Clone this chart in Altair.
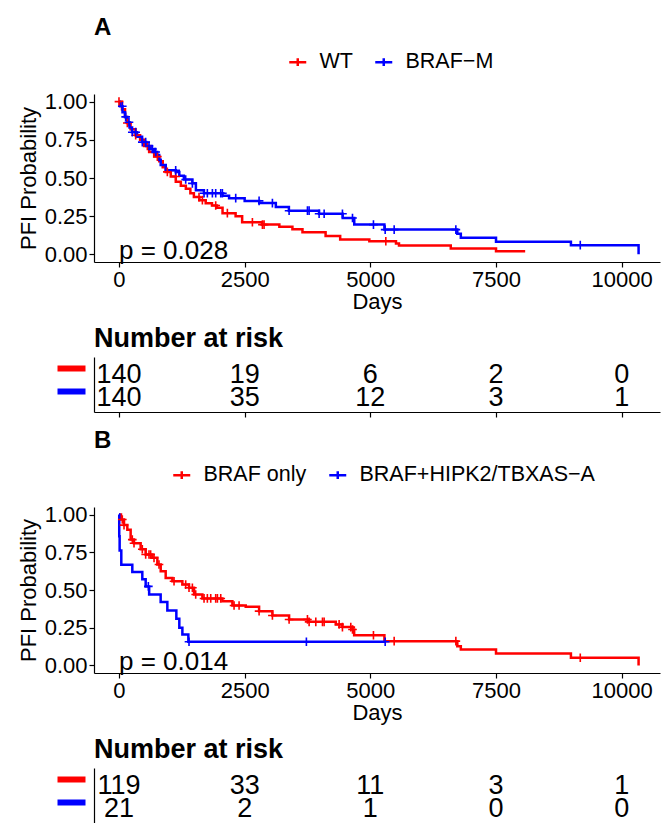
import altair as alt
import pandas as pd

# ---------------- Panel A data ----------------
A_groups = ["WT", "BRAF\u2212M"]
A_wt_time = [0, 60, 120, 160, 230, 330, 420, 500, 600, 700, 800, 870, 930, 1030, 1130, 1230, 1330, 1420,
             1490, 1600, 1725, 1850, 1950, 2060, 2320, 2450, 2850, 3190, 3450, 3650, 4110, 4400, 4980,
             5510, 5570, 6600, 7500, 8080]
A_wt_surv = [1.0, 0.95, 0.90, 0.86, 0.82, 0.78, 0.75, 0.71, 0.67, 0.64, 0.61, 0.57, 0.54, 0.51, 0.476,
             0.45, 0.43, 0.40, 0.375, 0.355, 0.335, 0.32, 0.305, 0.27, 0.25, 0.21, 0.195, 0.18, 0.165,
             0.145, 0.12, 0.097, 0.086, 0.071, 0.058, 0.039, 0.021, 0.021]
A_wt_cens = [0, 166, 332, 564, 763, 962, 1128, 1592, 1659, 1924, 2156, 2654, 2853, 2886, 5308]

A_br_time = [0, 20, 70, 120, 165, 210, 260, 360, 460, 540, 630, 700, 760, 800, 830, 930, 1130, 1200,
             1290, 1460, 1530, 1690, 2060, 2190, 2500, 2790, 3120, 3380, 3980, 4450, 4680, 5280, 6730,
             6800, 7500, 8990, 10336]
A_br_surv = [1.0, 0.97, 0.93, 0.90, 0.865, 0.83, 0.80, 0.77, 0.735, 0.71, 0.69, 0.67, 0.65, 0.62, 0.585,
             0.55, 0.54, 0.515, 0.49, 0.465, 0.42, 0.40, 0.383, 0.368, 0.35, 0.336, 0.31, 0.286, 0.266,
             0.238, 0.195, 0.162, 0.135, 0.108, 0.082, 0.06, 0.0]
A_br_cens = [66, 133, 199, 265, 332, 464, 531, 597, 663, 730, 1128, 1327, 1460, 1692, 1758, 1858, 1924,
             2024, 2057, 2322, 2787, 3052, 3384, 3749, 3782, 3981, 4081, 4445, 4645, 5062, 5295, 5474,
             6701, 9176]
A_pval = "p = 0.028"
A_risk_wt = [140, 19, 6, 2, 0]
A_risk_br = [140, 35, 12, 3, 1]

# ---------------- Panel B data ----------------
B_groups = ["BRAF only", "BRAF+HIPK2/TBXAS\u2212A"]
B_only_time = [0, 40, 100, 166, 232, 298, 431, 531, 663, 763, 830, 929, 1062, 1261, 1393, 1493, 1659,
               2057, 2256, 2521, 2787, 3052, 3384, 3782, 4313, 4445, 4644, 4678, 5280, 6730, 6800, 7500,
               8990, 10336]
B_only_surv = [1.0, 0.967, 0.93, 0.90, 0.834, 0.81, 0.77, 0.735, 0.713, 0.669, 0.624, 0.58, 0.558, 0.536,
               0.515, 0.47, 0.444, 0.426, 0.397, 0.389, 0.36, 0.331, 0.305, 0.289, 0.272, 0.254, 0.238,
               0.2, 0.161, 0.128, 0.106, 0.079, 0.051, 0.0]
B_only_cens = [66, 100, 265, 299, 464, 531, 597, 630, 697, 796, 1095, 1327, 1393, 1460, 1526, 1692, 1758,
               1825, 1924, 1958, 2024, 2289, 2389, 2787, 3052, 3384, 3749, 3782, 3915, 4048, 4081, 4379,
               4445, 4611, 4645, 5062, 5474, 6701, 9176]
B_hip_time = [0, 5, 13, 46, 265, 464, 531, 600, 829, 962, 1141, 1200, 1261, 1380, 5295]
B_hip_surv = [1.0, 0.857, 0.762, 0.667, 0.619, 0.571, 0.524, 0.47, 0.42, 0.364, 0.31, 0.25, 0.205, 0.157,
              0.157]
B_hip_cens = [584, 1393, 3728, 5295]
B_pval = "p = 0.014"
B_risk_only = [119, 33, 11, 3, 1]
B_risk_hip = [21, 2, 1, 0, 0]

risk_times = [0, 2500, 5000, 7500, 10000]
COLORS = ["#ff0000", "#0000ff"]
FONT = "Liberation Sans"
X_DOMAIN = [-497, 10762]
PLUS = "M-1,0L1,0M0,-1L0,1"


def step_value(times, survs, t):
    v = survs[0]
    for tt, ss in zip(times, survs):
        if tt <= t:
            v = ss
    return v


def km_panel(letter, groups, curves, pval, legend_x, height):
    line_rows, cens_rows = [], []
    for g, (ts, ss, cs) in zip(groups, curves):
        for t, s in zip(ts, ss):
            line_rows.append({"time": t, "surv": s, "group": g})
        for c in cs:
            cens_rows.append({"time": c, "surv": step_value(ts, ss, c), "group": g})
    ldf = pd.DataFrame(line_rows)
    cdf = pd.DataFrame(cens_rows)
    pdf = pd.DataFrame({"time": [0], "surv": [0.0], "label": [pval]})

    x = alt.X("time:Q", scale=alt.Scale(domain=X_DOMAIN, nice=False, zero=False),
              axis=alt.Axis(values=risk_times, format="d", title="Days", labelPadding=2,
                            titlePadding=1))
    y = alt.Y("surv:Q", scale=alt.Scale(domain=[-0.05, 1.05], nice=False, zero=False),
              axis=alt.Axis(values=[0, 0.25, 0.5, 0.75, 1.0], format=".2f",
                            title="PFI Probability", labelPadding=2, titlePadding=4))
    color = alt.Color("group:N", scale=alt.Scale(domain=groups, range=COLORS),
                      legend=alt.Legend(title=None, orient="none", direction="horizontal",
                                        legendX=legend_x, legendY=-43, padding=0,
                                        symbolType="M-1,0L1,0M0,-0.45L0,0.45",
                                        symbolSize=289, symbolStrokeWidth=2.5,
                                        labelFontSize=21.5, labelFont=FONT, labelOffset=11,
                                        labelLimit=500, columnPadding=17, labelColor="black"))
    line = alt.Chart(ldf).mark_line(interpolate="step-after", strokeWidth=2.5).encode(
        x=x, y=y, color=color, order="time:Q")
    pts = alt.Chart(cdf).mark_point(shape=PLUS, filled=False, size=75, strokeWidth=1.6,
                                    opacity=1).encode(x=x, y=y, color=color)
    ptxt = alt.Chart(pdf).mark_text(align="left", baseline="alphabetic", dy=5, fontSize=26,
                                    font=FONT, color="black").encode(x=x, y=y, text="label:N")
    return alt.layer(line, pts, ptxt).properties(
        width=566, height=height,
        title=alt.TitleParams(letter, anchor="start", frame="group", fontSize=24,
                              fontWeight="bold", font=FONT, baseline="alphabetic", offset=-8,
                              color="black"))


def risk_table(groups, counts):
    rows = []
    for g, cs in zip(groups, counts):
        for t, n in zip(risk_times, cs):
            rows.append({"time": t, "group": g, "n": n})
    df = pd.DataFrame(rows)
    x = alt.X("time:Q", scale=alt.Scale(domain=X_DOMAIN, nice=False, zero=False),
              axis=alt.Axis(values=risk_times, labels=False, title=None, tickSize=5))
    yscale = alt.Scale(domain=groups, type="point", padding=0.7)
    txt = alt.Chart(df).mark_text(fontSize=27, font=FONT, baseline="middle",
                                  dy=2, color="black").encode(
        x=x,
        y=alt.Y("group:N", scale=yscale,
                axis=alt.Axis(title=None, labels=False, ticks=False, domain=True, orient="left")),
        text="n:Q")
    keys = alt.Chart(df).mark_text(opacity=0).encode(
        x=x,
        y=alt.Y("group:N", scale=yscale,
                axis=alt.Axis(title=None, labels=False, domain=False, ticks=True, orient="left",
                              tickSize=28, tickWidth=6, offset=9, tickOffset=-5,
                              tickColor={"condition": {"test": f"datum.value === '{groups[0]}'",
                                                       "value": COLORS[0]},
                                         "value": COLORS[1]})),
        text="n:Q")
    return alt.layer(txt, keys).resolve_axis(y="independent").properties(
        width=566, height=55,
        title=alt.TitleParams("Number at risk", anchor="start", frame="group", fontSize=27,
                              fontWeight="bold", font=FONT, baseline="alphabetic", offset=-17,
                              color="black"))


panelA = km_panel("A", A_groups,
                  [(A_wt_time, A_wt_surv, A_wt_cens), (A_br_time, A_br_surv, A_br_cens)],
                  A_pval, 193, 168)
tableA = risk_table(A_groups, [A_risk_wt, A_risk_br])
panelB = km_panel("B", B_groups,
                  [(B_only_time, B_only_surv, B_only_cens), (B_hip_time, B_hip_surv, B_hip_cens)],
                  B_pval, 77, 166)
tableB = risk_table(B_groups, [B_risk_only, B_risk_hip])

chart = alt.vconcat(panelA, tableA, panelB, tableB, spacing=95, bounds="flush").resolve_scale(
    color="independent", x="independent", y="independent"
).configure_view(stroke=None).configure_axis(
    grid=False, domainColor="black", tickColor="black", labelColor="black", titleColor="black",
    labelFont=FONT, titleFont=FONT, labelFontSize=22, titleFontSize=22, titleFontWeight="normal",
    tickSize=5, domainWidth=1.2, tickWidth=1.2
).properties(padding={"left": 17, "top": 16, "right": 1, "bottom": 0}, background="white")

chart.save("out.html", embed_options={"renderer": "svg", "actions": False})
